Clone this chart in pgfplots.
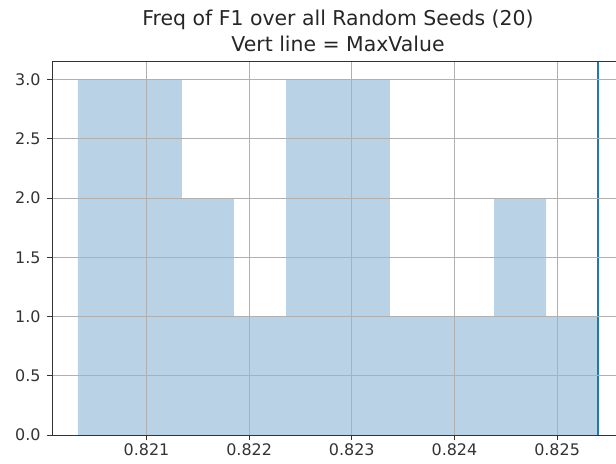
\documentclass[border=0pt]{standalone}
\usepackage{pgfplots}
\pgfplotsset{compat=1.18}
\usepackage{fontspec}
\setmainfont{DejaVu Sans}
\definecolor{czero}{HTML}{1F77B4}
\definecolor{barc}{HTML}{BAD2E6}
\definecolor{gridc}{HTML}{B0B0B0}
\definecolor{spine}{HTML}{333333}
\begin{document}
\begin{tikzpicture}
\begin{axis}[
  at={(0,0)}, anchor=south west,
  scale only axis,
  width=572bp, height=373bp,
  xmin=0.820079, xmax=0.825652,
  ymin=0, ymax=3.15,
  axis on top,
  xtick={0.821,0.822,0.823,0.824,0.825},
  ytick={0,0.5,1,1.5,2,2.5,3},
  xticklabel style={/pgf/number format/fixed,/pgf/number format/precision=3,/pgf/number format/fixed zerofill},
  yticklabel style={xshift=-3bp,/pgf/number format/fixed,/pgf/number format/precision=1,/pgf/number format/fixed zerofill},
  /pgf/number format/assume math mode=true,
  scaled x ticks=false,
  tick label style={font=\fontsize{16}{19}\selectfont, text=spine},
  tick align=outside,
  major tick length=5bp,
  xtick pos=bottom, ytick pos=left,
  tick style={spine, line width=1bp},
  axis line style={spine, line width=1bp},
  grid=major,
  major grid style={gridc, line width=1bp},
  title={Freq of F1 over all Random Seeds (20)\\Vert line = MaxValue},
  title style={at={(0.5,1)}, anchor=south, inner sep=0pt, yshift=4bp, align=center, font=\fontsize{20.5}{26}\selectfont, text=black!85},
]
\addplot[ybar interval, fill=barc, draw=none] coordinates {
(0.820332,3) (0.820839,3) (0.821345,2) (0.821852,1) (0.822359,3)
(0.822866,3) (0.823372,1) (0.823879,1) (0.824386,2) (0.824892,1)
(0.825399,1)
};
\addplot[czero, line width=2.5bp] coordinates {(0.825399,0) (0.825399,3.15)};
\end{axis}
\pgfresetboundingbox
\useasboundingbox (-52bp,-29bp) rectangle (564bp,435bp);
\end{tikzpicture}
\end{document}
